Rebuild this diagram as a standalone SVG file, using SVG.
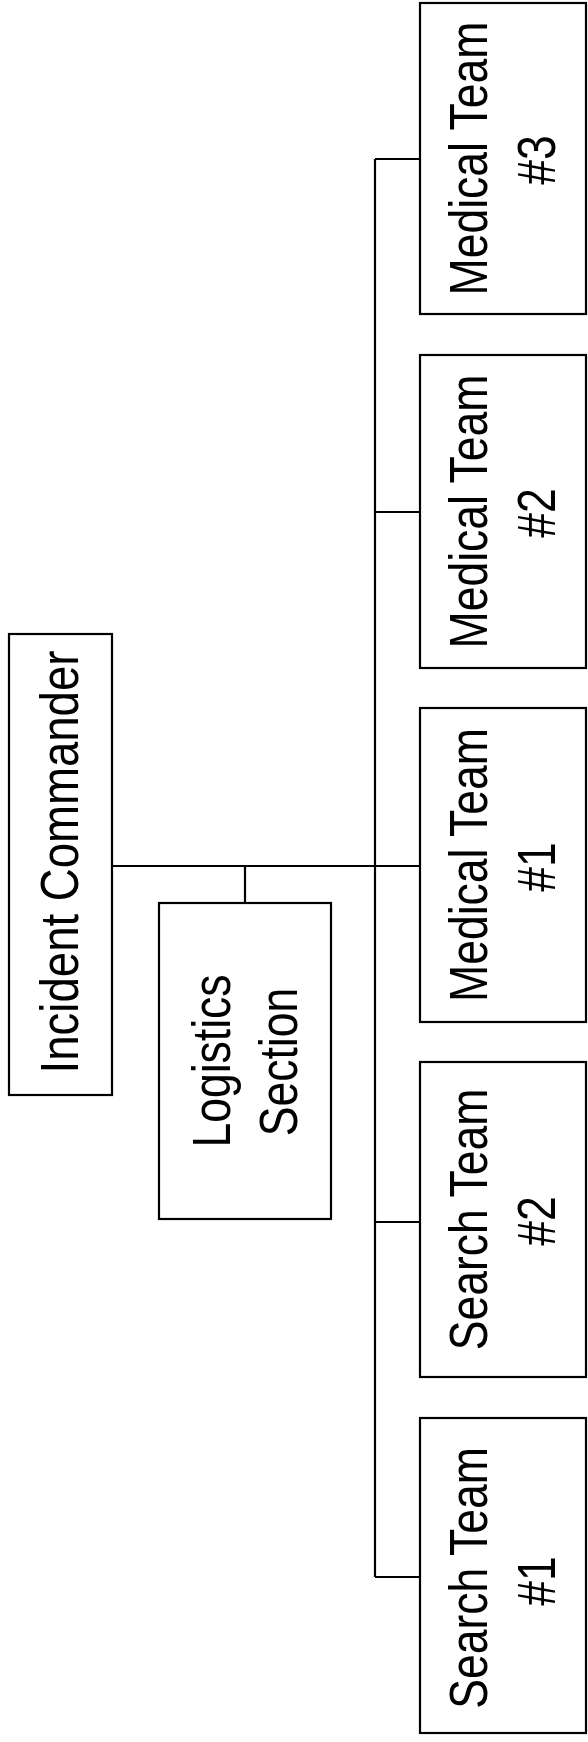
<svg xmlns="http://www.w3.org/2000/svg" width="588" height="1742" viewBox="0 0 588 1742">
<style>
.box{fill:#fff;stroke:#000;stroke-width:2.2}
.ln{fill:none;stroke:#000;stroke-width:2.2}
.t{font-family:"Liberation Sans",Arial,sans-serif;font-size:53px;fill:#000;text-anchor:middle}
</style>
<rect width="588" height="1742" fill="#fff"/>
<g id="connectors">
<path class="ln" d="M112,866 H420 M245,866 V903 M375,159 V1577 M375,159 H420 M375,512 H420 M375,1222 H420 M375,1577 H420"/>
</g>
<g id="incident-commander">
<rect class="box" x="9" y="634" width="103" height="461"/>
<text class="t" transform="translate(78,862) rotate(-90) scale(0.86,1)">Incident Commander</text>
</g>
<g id="logistics-section">
<rect class="box" x="159" y="903" width="172" height="316"/>
<text class="t" transform="translate(230,1061) rotate(-90) scale(0.84,1)">Logistics</text>
<text class="t" transform="translate(297,1062) rotate(-90) scale(0.84,1)">Section</text>
</g>
<g id="medical-team-3">
<rect class="box" x="420" y="3" width="166" height="311"/>
<text class="t" transform="translate(487,158.5) rotate(-90) scale(0.84,1)">Medical Team</text>
<text class="t" transform="translate(555,160) rotate(-90) scale(0.84,1)">#3</text>
</g>
<g id="medical-team-2">
<rect class="box" x="420" y="355" width="166" height="313"/>
<text class="t" transform="translate(487,511.5) rotate(-90) scale(0.84,1)">Medical Team</text>
<text class="t" transform="translate(555,513) rotate(-90) scale(0.84,1)">#2</text>
</g>
<g id="medical-team-1">
<rect class="box" x="420" y="708" width="166" height="314"/>
<text class="t" transform="translate(487,865) rotate(-90) scale(0.84,1)">Medical Team</text>
<text class="t" transform="translate(555,867) rotate(-90) scale(0.84,1)">#1</text>
</g>
<g id="search-team-2">
<rect class="box" x="420" y="1062" width="166" height="315"/>
<text class="t" transform="translate(487,1219.5) rotate(-90) scale(0.84,1)">Search Team</text>
<text class="t" transform="translate(555,1221) rotate(-90) scale(0.84,1)">#2</text>
</g>
<g id="search-team-1">
<rect class="box" x="420" y="1418" width="166" height="315"/>
<text class="t" transform="translate(487,1578) rotate(-90) scale(0.84,1)">Search Team</text>
<text class="t" transform="translate(555,1581) rotate(-90) scale(0.84,1)">#1</text>
</g>
</svg>
